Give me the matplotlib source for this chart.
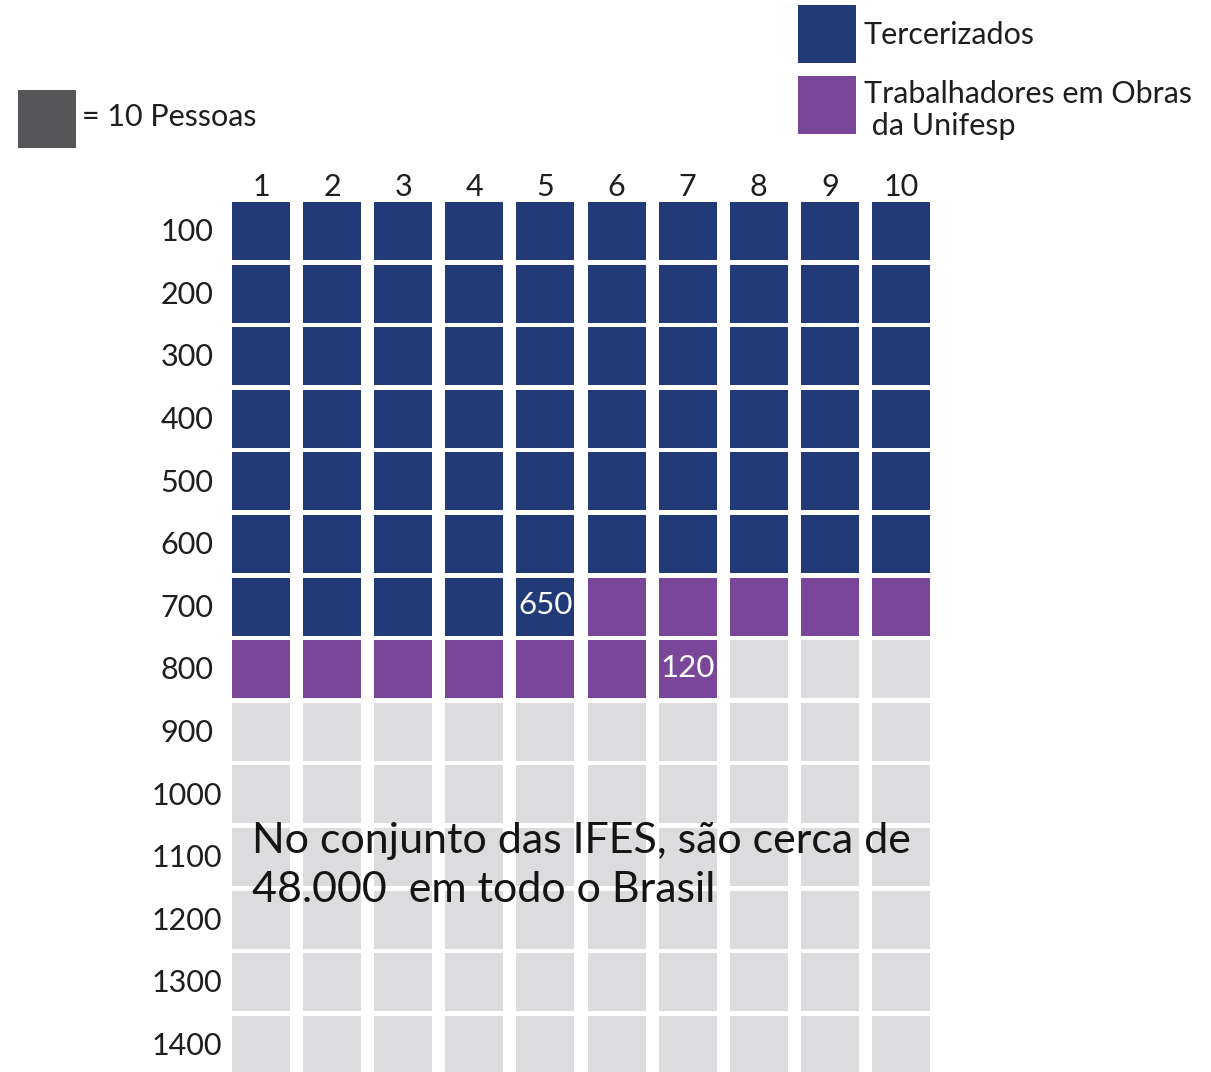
import numpy as np
import matplotlib.pyplot as plt
import matplotlib.patches as mpatches

plt.rcParams['font.family'] = ['Lato', 'DejaVu Sans']

# data: each cell = 10 people
categories = ['Tercerizados', 'Trabalhadores em Obras\n da Unifesp']
values = [650, 120]
colors = ['#233a78', '#7a4699']
empty_color = '#dcdcdf'
per_cell = 10
n_cols = 10
n_rows = 14
col_labels = [str(i) for i in range(1, n_cols + 1)]
row_labels = [str(100 * i) for i in range(1, n_rows + 1)]
note = 'No conjunto das IFES, são cerca de\n48.000  em todo o Brasil'

W, H = 1211, 1072
fig = plt.figure(figsize=(W / 100, H / 100), dpi=100)

# grid axes in cell units (pitch 71.1 px horizontally, 62.6 px vertically)
px, py = 71.1, 62.6
cw, ch = 58 / px, 58 / py
left, top = 232, 202
ax = fig.add_axes([left / W, 0, n_cols * px / W, (H - top) / H])
ax.set_xlim(0, n_cols)
ax.set_ylim((H - top) / py, 0)
ax.axis('off')

# cell colours in row-major order
cell_cols = []
for v, c in zip(values, colors):
    cell_cols += [c] * (v // per_cell)
total = n_cols * n_rows
cell_cols += [empty_color] * (total - len(cell_cols))

for k, c in enumerate(cell_cols):
    r, col = divmod(k, n_cols)
    ax.add_patch(mpatches.Rectangle((col, r), cw, ch, facecolor=c, edgecolor='none'))

# value label in last cell of each category
end = 0
for v in values:
    end += v // per_cell
    r, col = divmod(end - 1, n_cols)
    ax.text(col + cw / 2, r + ch / 2 - 0.02, str(v), color='white', fontsize=22.5,
            ha='center', va='center')

for i, lab in enumerate(col_labels):
    ax.text(i + cw / 2, -0.02, lab, fontsize=22, ha='center', va='bottom',
            color='#1e1e1e', clip_on=False)
for j, lab in enumerate(row_labels):
    ax.text(-45 / px, j + ch / 2 + 0.02, lab, fontsize=22, ha='center', va='center',
            color='#1e1e1e', clip_on=False)

ax.text(20 / px, 10.6, note, fontsize=31, ha='left', va='center',
        color='#141414', linespacing=1.35)

# overlay axes in pixel units for the legends
ov = fig.add_axes([0, 0, 1, 1])
ov.set_xlim(0, W)
ov.set_ylim(H, 0)
ov.axis('off')

ov.add_patch(mpatches.Rectangle((18, 90), 58, 58, facecolor='#555557', edgecolor='none'))
ov.text(82, 117, '= 10 Pessoas', fontsize=22, ha='left', va='center', color='#1e1e1e')

for i, (lab, c) in enumerate(zip(categories, colors)):
    y0 = 5 + i * 71
    ov.add_patch(mpatches.Rectangle((798, y0), 58, 58, facecolor=c, edgecolor='none'))
    if i == 0:
        ov.text(864, y0 + 30, lab, fontsize=22, ha='left', va='center', color='#1e1e1e')
    else:
        ov.text(864, y0 + 34, lab, fontsize=22, ha='left', va='center', color='#1e1e1e',
                linespacing=1.2)

fig.savefig('out.png', dpi=100, facecolor='white')
